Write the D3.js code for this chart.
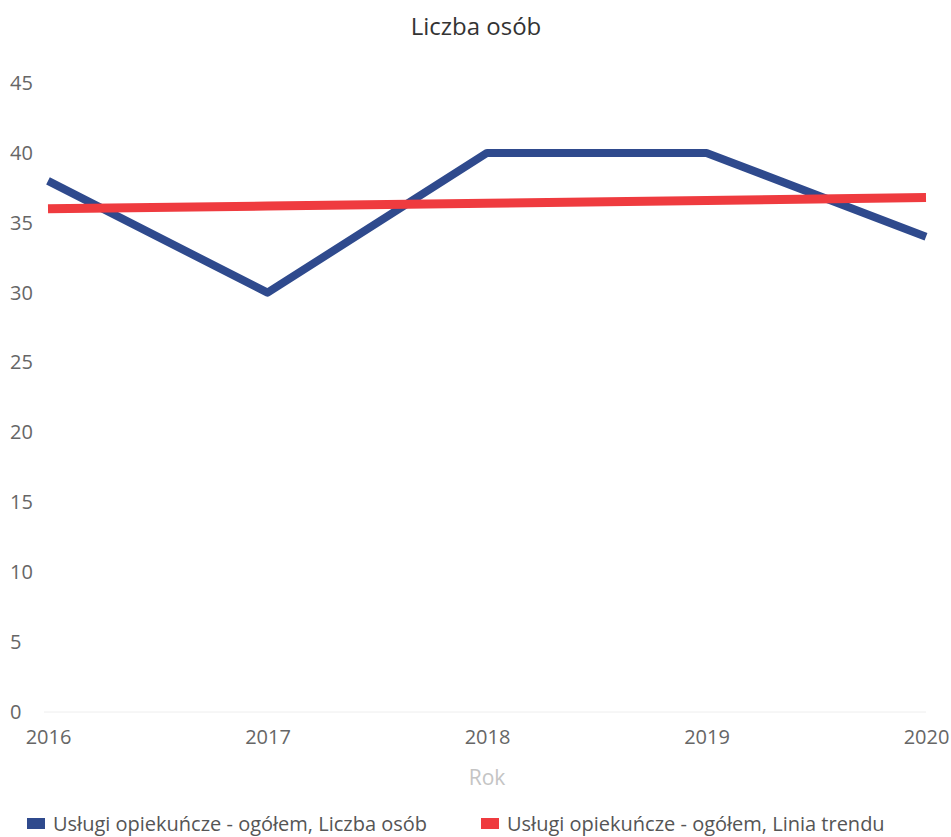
<!DOCTYPE html>
<html><head><meta charset="utf-8">
<script src="https://cdn.jsdelivr.net/npm/d3@7"></script>
<style>html,body{margin:0;padding:0;background:#fff;}svg{display:block;font-family:"Open Sans","Noto Sans",sans-serif;}</style>
</head><body><svg id="c" width="951" height="837"></svg>
<script>
const years = [2016, 2017, 2018, 2019, 2020];
const persons = [38, 30, 40, 40, 34];
const trend = [36.0, 36.2, 36.4, 36.6, 36.8];
const yTicks = [0, 5, 10, 15, 20, 25, 30, 35, 40, 45];
const seriesNames = ["Usługi opiekuńcze - ogółem, Liczba osób", "Usługi opiekuńcze - ogółem, Linia trendu"];
const colors = ["#2f4a8d", "#ef3b3f"];

const svg = d3.select("#c");
const x = d3.scalePoint().domain(years).range([48, 926]);
const y = d3.scaleLinear().domain([0, 45]).range([712, 83]);

svg.append("text").attr("x", 476).attr("y", 35).attr("text-anchor", "middle")
  .attr("font-size", 24).attr("fill", "#333").text("Liczba osób");

// y axis labels
const ya = svg.append("g").call(d3.axisLeft(y).tickValues(yTicks).tickSize(0).tickPadding(0));
ya.select(".domain").remove();
ya.selectAll("text").attr("x", 10).attr("text-anchor", "start").attr("font-size", 20)
  .attr("fill", "#666").attr("font-family", "Open Sans, Noto Sans, sans-serif");

// zero line
svg.append("line").attr("x1", 44).attr("x2", 926).attr("y1", y(0)).attr("y2", y(0))
  .attr("stroke", "#eee").attr("stroke-width", 1);

// x axis
const xa = svg.append("g").attr("transform", `translate(0,${y(0)})`)
  .call(d3.axisBottom(x).tickSize(0).tickPadding(18));
xa.select(".domain").remove();
xa.selectAll("text").attr("font-size", 20).attr("fill", "#666")
  .attr("font-family", "Open Sans, Noto Sans, sans-serif");

svg.append("text").attr("x", 487).attr("y", 785).attr("text-anchor", "middle")
  .attr("font-size", 21).attr("fill", "#c4c4c4").text("Rok");

const line = d3.line().x((d, i) => x(years[i])).y(d => y(d));
svg.append("path").datum(persons).attr("d", line).attr("fill", "none")
  .attr("stroke", colors[0]).attr("stroke-width", 8).attr("stroke-linejoin", "round");
svg.append("path").datum(trend).attr("d", line).attr("fill", "none")
  .attr("stroke", colors[1]).attr("stroke-width", 9);

// legend
const lx = [27, 481];
seriesNames.forEach((n, i) => {
  svg.append("rect").attr("x", lx[i]).attr("y", 818).attr("width", 18).attr("height", 11).attr("fill", colors[i]);
  svg.append("text").attr("x", lx[i] + 26).attr("y", 831).attr("font-size", 20).attr("fill", "#555").text(n);
});
</script></body></html>
